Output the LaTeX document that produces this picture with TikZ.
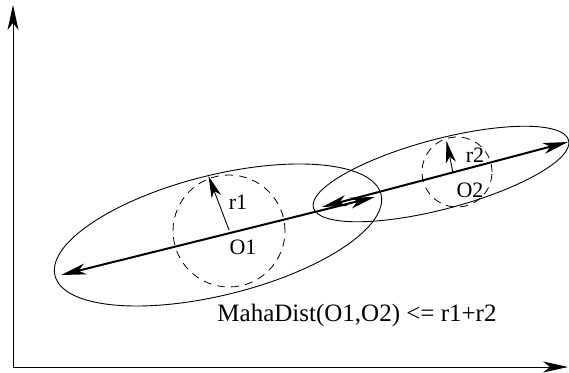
\documentclass[tikz,border=0pt]{standalone}
\usepackage{fontspec}
\setmainfont{Liberation Serif}
\usetikzlibrary{arrows.meta}
\begin{document}
\begin{tikzpicture}[x=1pt,y=1pt,
  tipx/.tip={Stealth[length=25pt,width=11pt,inset=7pt]},
  axisline/.style={line width=1pt,-tipx},
  dblarrow/.style={line width=2pt,tipx-tipx},
  radarrow/.style={line width=0.9pt,-{Stealth[length=22pt,width=10pt,inset=6pt]}},
  ellipseline/.style={line width=0.9pt},
  dashcircle/.style={line width=0.8pt,dash pattern=on 8pt off 6pt},
  lbl/.style={inner sep=0pt,font=\fontsize{22}{26}\selectfont},
  mainlbl/.style={inner sep=0pt,font=\fontsize{25}{29}\selectfont}]
\useasboundingbox (0,0) rectangle (569,372);
% axes
\coordinate (orig) at (13,5);
\coordinate (ytip) at (13,367);
\coordinate (xtip) at (568,5);
\draw[axisline] (orig) -- (ytip);
\draw[axisline] (orig) -- (xtip);
% ellipses
\coordinate (c1) at (218,137);
\coordinate (c2) at (441,198);
\draw[ellipseline,rotate around={14:(c1)}] (c1) ellipse [x radius=168, y radius=60];
\draw[ellipseline,rotate around={14.8:(c2)}] (c2) ellipse [x radius=132, y radius=35];
% dashed circles
\coordinate (o1) at (229,141);
\coordinate (o2) at (457,200);
\draw[dashcircle] (o1) circle [radius=56];
\draw[dashcircle] (o2) circle [radius=35];
% major axes
\coordinate (a1l) at (61,97);
\coordinate (a1r) at (375,175);
\coordinate (a2l) at (322,165);
\coordinate (a2r) at (568,230);
\draw[dblarrow] (a1l) -- (a1r);
\draw[dblarrow] (a2l) -- (a2r);
% radii
\coordinate (r1s) at (229,142);
\coordinate (r1e) at (208.5,196);
\coordinate (r2s) at (453,199);
\coordinate (r2e) at (446.5,231);
\draw[radarrow] (r1s) -- (r1e);
\draw[radarrow] (r2s) -- (r2e);
% labels
\node[lbl] (lo1) at (243,125) {O1};
\node[lbl] (lr1) at (238,170) {r1};
\node[lbl] (lo2) at (470,182) {O2};
\node[lbl] (lr2) at (475,217) {r2};
\node[mainlbl] (cond) at (357,57) {MahaDist(O1,O2) <= r1+r2};
\end{tikzpicture}
\end{document}
